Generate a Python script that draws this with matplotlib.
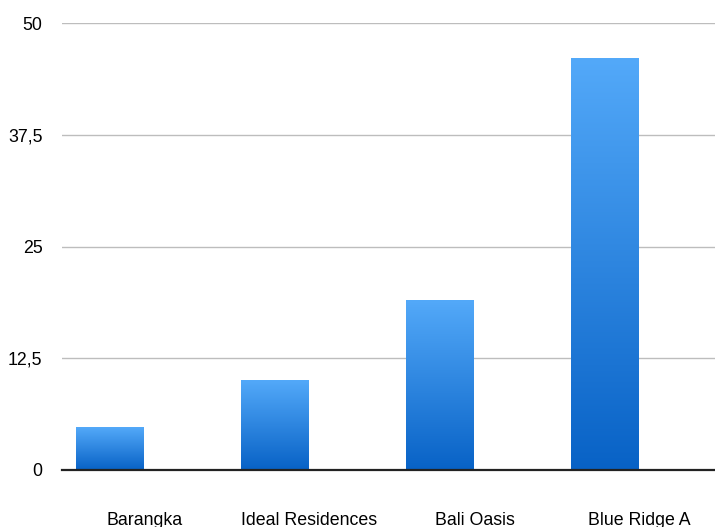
import matplotlib
matplotlib.use("Agg")
import matplotlib.pyplot as plt
import numpy as np
from matplotlib.colors import LinearSegmentedColormap

categories = ["Barangka", "Ideal Residences", "Bali Oasis", "Blue Ridge A"]
values = [4.8, 10.0, 19.0, 46.0]
yticks = [0, 12.5, 25, 37.5, 50]
ytick_labels = ["0", "12,5", "25", "37,5", "50"]

plt.rcParams['font.family'] = ['Liberation Sans', 'DejaVu Sans']

W, H = 715, 527
fig = plt.figure(figsize=(W / 100, H / 100), dpi=100)
left_px, right_px, top_px, bottom_px = 62, 722, 23, 470
ax = fig.add_axes([left_px / W, (H - bottom_px) / H,
                   (right_px - left_px) / W, (bottom_px - top_px) / H])

x = np.arange(len(categories))
offset = -0.212
width = 0.407
bars = ax.bar(x + offset, values, width=width, color='none', zorder=3)

cmap = LinearSegmentedColormap.from_list('g', ['#0862C6', '#53A9F9'])
grad = np.linspace(0, 1, 256).reshape(-1, 1)
for b in bars:
    x0, y0 = b.get_x(), b.get_y()
    ax.imshow(grad, extent=[x0, x0 + b.get_width(), y0, y0 + b.get_height()],
              origin='lower', cmap=cmap, aspect='auto', zorder=3,
              interpolation='bilinear')

ax.set_xlim(-0.5, 3.5)
ax.set_ylim(0, 50)
ax.set_yticks(yticks)
ax.set_yticklabels(ytick_labels)
ax.set_xticks(x)
ax.set_xticklabels(categories)
ax.tick_params(axis='both', length=0, labelsize=12.8, colors='#000000')
ax.tick_params(axis='x', pad=30.5)
ax.tick_params(axis='y', pad=14)
for lbl in ax.get_yticklabels():
    lbl.set_horizontalalignment('right')

ax.yaxis.grid(True, color='#BDBDBD', linewidth=1.0, zorder=0)
ax.set_axisbelow(True)
for s in ['top', 'right', 'left']:
    ax.spines[s].set_visible(False)
ax.spines['bottom'].set_color('#222222')
ax.spines['bottom'].set_linewidth(1.6)
ax.spines['bottom'].set_zorder(4)

fig.savefig('out.png', dpi=100)
